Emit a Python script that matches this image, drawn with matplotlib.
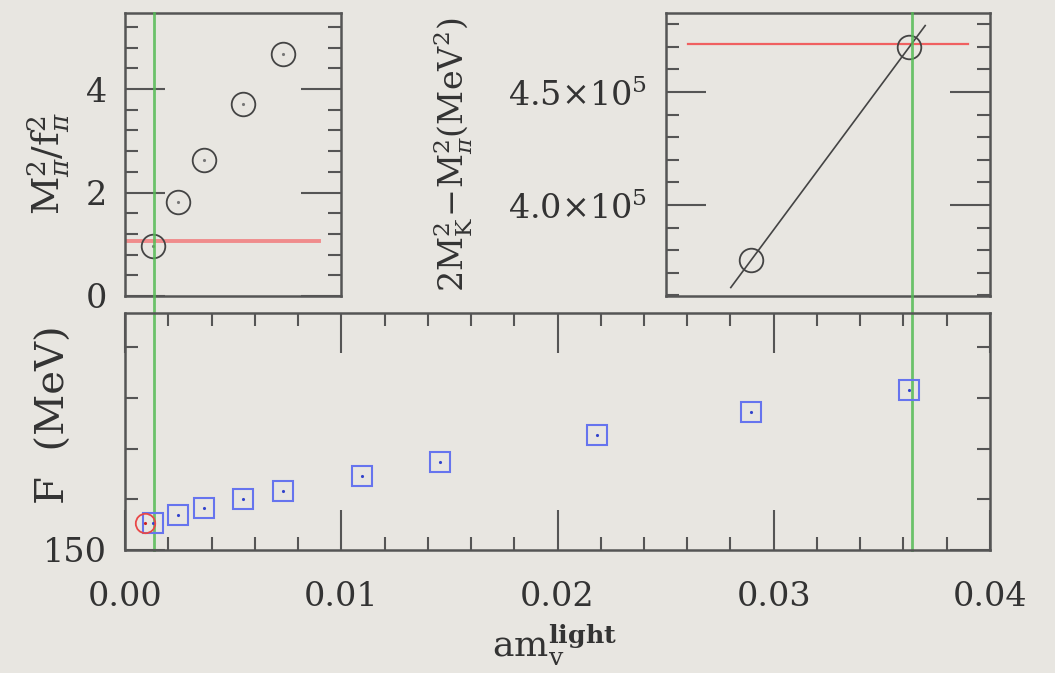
import numpy as np
import matplotlib
matplotlib.use('Agg')
import matplotlib.pyplot as plt
from matplotlib.ticker import MultipleLocator, FuncFormatter

plt.rcParams['font.family'] = ['DejaVu Serif']
plt.rcParams['mathtext.fontset'] = 'dejavuserif'

# light quark mass values (shared by all three panels)
am_light = [0.0013, 0.00245, 0.00365, 0.00546, 0.0073, 0.01096, 0.01455, 0.02181, 0.02895, 0.03626]
# F in MeV, bottom panel
F_mev = [150.53, 150.69, 150.83, 151.0, 151.16, 151.46, 151.73, 152.26, 152.72, 153.15]
# chiral extrapolated point (red circle)
chiral_x = [0.00092]
chiral_F = [150.53]

# top-left: M_pi^2 / f_pi^2 for the five lightest masses
mpi_ratio = [0.97, 1.82, 2.63, 3.71, 4.68]
ratio_phys = 1.06
ratio_phys_range = [0.0, 0.009]

# top-right: 2 M_K^2 - M_pi^2 for the two heaviest masses
kaon_comb = [375700, 469900]
kaon_phys = 471200
kaon_phys_range = [0.026, 0.039]
fit_range = [0.028, 0.037]

# physical point masses (green lines)
am_phys = [0.00134, 0.0364]

bg = '#e8e6e1'
spine_c = '#555555'
W, H = 1055, 673

fig = plt.figure(figsize=(W / 100, H / 100), dpi=100, facecolor=bg)


def box(l, t, r, b):
    return [l / W, (H - b) / H, (r - l) / W, (b - t) / H]


ax_tl = fig.add_axes(box(125, 13, 341, 296))
ax_tr = fig.add_axes(box(666, 13, 990, 296))
ax_b = fig.add_axes(box(125, 313, 990, 550))


def style(ax):
    ax.set_facecolor('none')
    for s in ax.spines.values():
        s.set_color(spine_c)
        s.set_linewidth(1.8)
    ax.tick_params(which='both', direction='in', color=spine_c, width=1.5,
                   labelsize=24, labelcolor='#333333')
    ax.tick_params(which='major', length=29)
    ax.tick_params(which='minor', length=9.5)


for ax in (ax_tl, ax_tr, ax_b):
    style(ax)

circ = dict(marker='o', ms=17, mfc='none', mec='#444444', mew=1.3, ls='none')
dot = dict(marker='.', ms=2.5, ls='none')

# --- top left
ax_tl.set_xlim(0, 0.01)
ax_tl.set_ylim(0, 5.47)
ax_tl.plot(ratio_phys_range, [ratio_phys, ratio_phys], color='#f08c8c', lw=2.8)
ax_tl.plot(am_light[:5], mpi_ratio, **circ)
ax_tl.plot(am_light[:5], mpi_ratio, color='#777777', **dot)
ax_tl.set_xticks([])
ax_tl.yaxis.set_major_locator(MultipleLocator(2))
ax_tl.yaxis.set_minor_locator(MultipleLocator(0.4))
ax_tl.tick_params(axis='y', which='both', left=True, right=True, pad=13)
ax_tl.set_ylabel(r'$\mathrm{M}_\pi^2/\mathrm{f}_\pi^2$', fontsize=27, color='#333333')
ax_tl.yaxis.set_label_coords(-0.245, 0.47)

# --- top right
ax_tr.set_xlim(0.025, 0.04)
ax_tr.set_ylim(359700, 485000)
ax_tr.plot(kaon_phys_range, [kaon_phys, kaon_phys], color='#f06060', lw=1.6)
coef = np.polyfit(am_light[8:], kaon_comb, 1)
ax_tr.plot(fit_range, np.polyval(coef, fit_range), color='#444444', lw=1.2)
ax_tr.plot(am_light[8:], kaon_comb, **circ)
ax_tr.set_xticks([])
ax_tr.yaxis.set_major_locator(MultipleLocator(50000))
ax_tr.yaxis.set_minor_locator(MultipleLocator(10000))
ax_tr.yaxis.set_major_formatter(FuncFormatter(
    lambda v, p: r'$%.1f{\times}10^5$' % (v / 1e5)))
ax_tr.tick_params(axis='y', which='both', left=True, right=True, pad=14)
ax_tr.set_ylabel(r'$2\mathrm{M}_\mathrm{K}^2\!-\!\mathrm{M}_\pi^2(\mathrm{MeV}^2)$',
                 fontsize=24, color='#333333')
ax_tr.yaxis.set_label_coords(-0.59, 0.5)

# --- bottom
ax_b.set_xlim(0, 0.04)
ax_b.set_ylim(150, 154.67)
ax_b.plot(am_light, F_mev, marker='s', ms=14.5, mfc='none', mec='#6674ee',
          mew=1.5, ls='none')
ax_b.plot(am_light, F_mev, color='#3344cc', **dot)
ax_b.plot(chiral_x, chiral_F, marker='o', ms=14, mfc='none', mec='#e84848',
          mew=1.3, ls='none')
ax_b.plot(chiral_x, chiral_F, color='#cc2222', **dot)
ax_b.xaxis.set_major_locator(MultipleLocator(0.01))
ax_b.xaxis.set_minor_locator(MultipleLocator(0.002))
ax_b.yaxis.set_major_locator(MultipleLocator(5))
ax_b.yaxis.set_minor_locator(MultipleLocator(1))
ax_b.xaxis.set_major_formatter(FuncFormatter(lambda v, p: '%.2f' % v))
ax_b.tick_params(axis='x', which='both', top=True, bottom=True, pad=22)
ax_b.tick_params(axis='y', which='both', left=True, right=True, pad=13)
ax_b.set_ylabel('F  (MeV)', fontsize=29, color='#333333')
ax_b.yaxis.set_label_coords(-0.060, 0.57)
ax_b.set_xlabel(r'am$_\mathrm{v}^\mathbf{light}$', fontsize=26, color='#333333')
ax_b.xaxis.set_label_coords(0.496, -0.305)

# green lines run from bottom panel up through the top panels
top_frac = (550 - 13) / (550 - 313)
for xg in am_phys:
    ax_b.axvline(xg, ymin=0, ymax=top_frac, color='#55bb55', lw=2, alpha=0.85,
                 clip_on=False, zorder=0)

fig.savefig('out.png', dpi=100, facecolor=bg)
